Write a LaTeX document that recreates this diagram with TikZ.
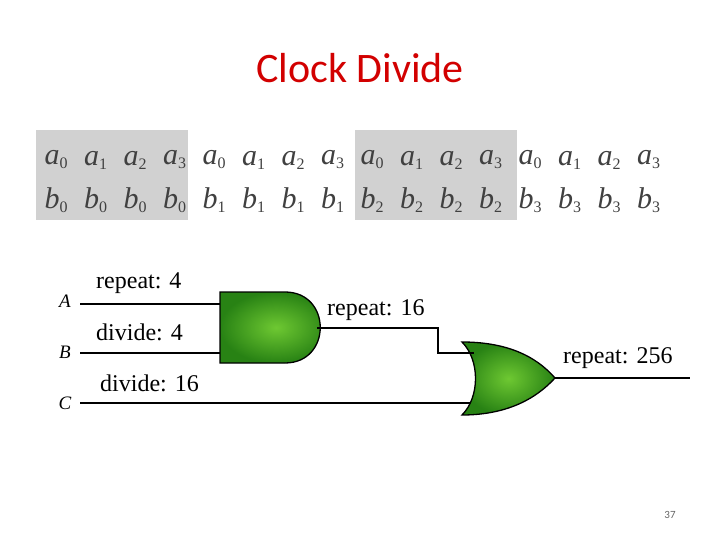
\documentclass[tikz,border=0pt]{standalone}
\usepackage{fontspec}
\setmainfont{Liberation Serif}
\newfontfamily\titlefont{Carlito}
\begin{document}
\begin{tikzpicture}[x=1pt,y=-1pt,
  lbl/.style={font=\fontsize{24}{28}\selectfont,inner sep=0pt},
  inp/.style={font=\fontsize{19}{22}\selectfont\itshape,inner sep=0pt},
  wire/.style={line width=1.3pt},
  gate/.style={draw=black,line width=1.3pt,inner color={rgb,255:red,110;green,200;blue,50},outer color={rgb,255:red,40;green,130;blue,20}},
  cell/.style={font=\fontsize{30}{32}\selectfont\itshape,text=black!75,inner sep=0pt}]
\useasboundingbox (0,0) rectangle (720,540);
\node[font=\fontsize{42}{48}\selectfont\titlefont,text={rgb,255:red,210;green,0;blue,0}] (title) at (360,68) {Clock Divide};
% grid
\fill[black!18] (36,130) rectangle (188,220);
\fill[black!18] (355,130) rectangle (517,220);
\foreach \i in {0,...,15}{
  \pgfmathtruncatemacro{\a}{mod(\i,4)}
  \pgfmathtruncatemacro{\b}{int(\i/4)}
  \node[cell] (a\i) at ({56+\i*39.5},160) {a\raisebox{-4pt}{\fontsize{16}{16}\selectfont\upshape\a}};
  \node[cell] (b\i) at ({56+\i*39.5},200) {b\raisebox{-4pt}{\fontsize{16}{16}\selectfont\upshape\b}};
}
% gates
\draw[gate] (220,292) -- (285,292) .. controls (332,292) and (332,363) .. (285,363) -- (220,363) -- cycle;
\draw[gate] (462,342) .. controls (505,342) and (535,355) .. (555,378) .. controls (535,400) and (505,415) .. (462,415) .. controls (480,397) and (480,360) .. (462,342) -- cycle;
\coordinate (A0) at (80,304); \coordinate (A1) at (220,304);
\coordinate (B0) at (80,353); \coordinate (B1) at (220,353);
\coordinate (C0) at (80,403); \coordinate (C1) at (470,403);
\coordinate (G1) at (317,328); \coordinate (K1) at (438,328); \coordinate (K2) at (438,353); \coordinate (O1) at (474,353);
\coordinate (G2) at (555,378); \coordinate (E) at (690,378);
\draw[wire] (A0) -- (A1);
\draw[wire] (B0) -- (B1);
\draw[wire] (C0) -- (C1);
\draw[wire] (G1) -- (K1) -- (K2) -- (O1);
\draw[wire] (G2) -- (E);
\node[inp] (A) at (65,301) {A};
\node[inp] (B) at (65,352) {B};
\node[inp] (C) at (65,403) {C};
\node[lbl,anchor=west] (r4) at (96,283) {repeat: 4};
\node[lbl,anchor=west] (d4) at (96,332) {divide: 4};
\node[lbl,anchor=west] (d16) at (100,383) {divide: 16};
\node[lbl,anchor=west] (r16) at (327,310) {repeat: 16};
\node[lbl,anchor=west] (r256) at (563,358) {repeat: 256};
\node[font=\fontsize{11}{12}\selectfont\titlefont,text=black!60] (pg) at (670,515) {37};
\end{tikzpicture}
\end{document}
